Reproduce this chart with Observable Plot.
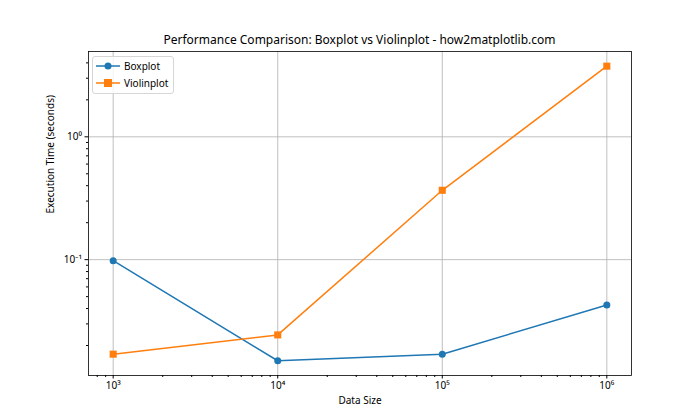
<!DOCTYPE html>
<html>
<head>
<meta charset="utf-8">
<script src="https://cdn.jsdelivr.net/npm/d3@7"></script>
<script src="https://cdn.jsdelivr.net/npm/@observablehq/plot@0.6"></script>
<style>
  html, body { margin: 0; padding: 0; background: #fff; }
  #wrap { position: relative; width: 700px; height: 420px; font-family: "Noto Sans", sans-serif; }
  #title { position: absolute; left: 88px; width: 543px; top: 31px; text-align: center; font-size: 12px; color: #000; white-space: nowrap; }
  #legend { position: absolute; left: 92px; top: 56px; width: 80px; height: 36px; border: 1px solid #d6d6d6; border-radius: 3px; background: rgba(255,255,255,0.8); }
  svg text { font-family: "Noto Sans", sans-serif; }
</style>
</head>
<body>
<div id="wrap">
  <div id="chart"></div>
  <div id="title">Performance Comparison: Boxplot vs Violinplot - how2matplotlib.com</div>
  <div id="legend"></div>
</div>
<script>
const sizes = [1e3, 1e4, 1e5, 1e6];
const boxplotTimes = [0.0981, 0.01503, 0.0170, 0.0428];
const violinplotTimes = [0.0170, 0.0244, 0.367, 3.76];
const seriesNames = ["Boxplot", "Violinplot"];
const seriesColors = ["#1f77b4", "#ff7f0e"];
const xMajor = [1e3, 1e4, 1e5, 1e6];
const yMajor = [0.1, 1];
const titleText = "Performance Comparison: Boxplot vs Violinplot - how2matplotlib.com";
const xLabel = "Data Size";
const yLabel = "Execution Time (seconds)";

const sup = {"-":"\u207B","0":"\u2070","1":"\u00B9","2":"\u00B2","3":"\u00B3","4":"\u2074","5":"\u2075","6":"\u2076","7":"\u2077","8":"\u2078","9":"\u2079"};
const fmtPow = v => "10" + String(Math.round(Math.log10(v))).split("").map(c => sup[c]).join("");

const box = sizes.map((s, i) => ({size: s, time: boxplotTimes[i], series: seriesNames[0]}));
const violin = sizes.map((s, i) => ({size: s, time: violinplotTimes[i], series: seriesNames[1]}));

const xMinor = [];
for (let e = 2; e <= 6; e++) for (let k = 2; k <= 9; k++) { const v = k * 10 ** e; if (v > 10 ** 2.85 && v < 10 ** 6.15) xMinor.push(v); }
const yMinor = [];
for (let e = -2; e <= 0; e++) for (let k = 2; k <= 9; k++) { const v = k * 10 ** e; if (v > 0.0114 && v < 4.95) yMinor.push(v); }

const chart = Plot.plot({
  width: 700,
  height: 420,
  marginLeft: 88,
  marginRight: 69,
  marginTop: 51,
  marginBottom: 45,
  style: {fontSize: "10px", fontFamily: "Noto Sans, sans-serif", color: "#000", background: "#fff"},
  x: {type: "log", domain: [10 ** 2.85, 10 ** 6.15]},
  y: {type: "log", domain: [0.0114, 4.95]},
  marks: [
    Plot.gridX(xMajor, {stroke: "#b0b0b0", strokeOpacity: 1, strokeWidth: 0.8}),
    Plot.gridY(yMajor, {stroke: "#b0b0b0", strokeOpacity: 1, strokeWidth: 0.8}),
    Plot.axisX({ticks: xMajor, tickFormat: fmtPow, tickSize: 3.5, tickPadding: 3, label: null, fontSize: 10}),
    Plot.axisX({ticks: xMinor, tickFormat: () => "", tickSize: 2, label: null}),
    Plot.axisY({ticks: yMajor, tickFormat: fmtPow, tickSize: 3.5, tickPadding: 3, label: null, fontSize: 10}),
    Plot.axisY({ticks: yMinor, tickFormat: () => "", tickSize: 2, label: null}),
    Plot.text([xLabel], {frameAnchor: "bottom", dy: 28, text: d => d, fontSize: 10}),
    Plot.text([yLabel], {frameAnchor: "left", dx: -38, rotate: -90, text: d => d, fontSize: 10}),
    Plot.line(box, {x: "size", y: "time", stroke: seriesColors[0], strokeWidth: 1.5}),
    Plot.dot(box, {x: "size", y: "time", fill: seriesColors[0], r: 3.5, symbol: "circle"}),
    Plot.line(violin, {x: "size", y: "time", stroke: seriesColors[1], strokeWidth: 1.5}),
    Plot.dot(violin, {x: "size", y: "time", fill: seriesColors[1], r: 4, symbol: "square"}),
    Plot.frame({stroke: "#000", strokeWidth: 0.8})
  ]
});
document.getElementById("chart").appendChild(chart);

// legend
const leg = d3.select("#legend").append("svg").attr("width", 80).attr("height", 36);
seriesNames.forEach((name, i) => {
  const y = 9 + i * 17;
  leg.append("line").attr("x1", 3).attr("x2", 27).attr("y1", y).attr("y2", y).attr("stroke", seriesColors[i]).attr("stroke-width", 1.5);
  if (i === 0) leg.append("circle").attr("cx", 15).attr("cy", y).attr("r", 3.5).attr("fill", seriesColors[i]);
  else leg.append("rect").attr("x", 11).attr("y", y - 4).attr("width", 8).attr("height", 8).attr("fill", seriesColors[i]);
  leg.append("text").attr("x", 31).attr("y", y + 3.5).attr("font-size", 10).attr("fill", "#000").text(name);
});
</script>
</body>
</html>
